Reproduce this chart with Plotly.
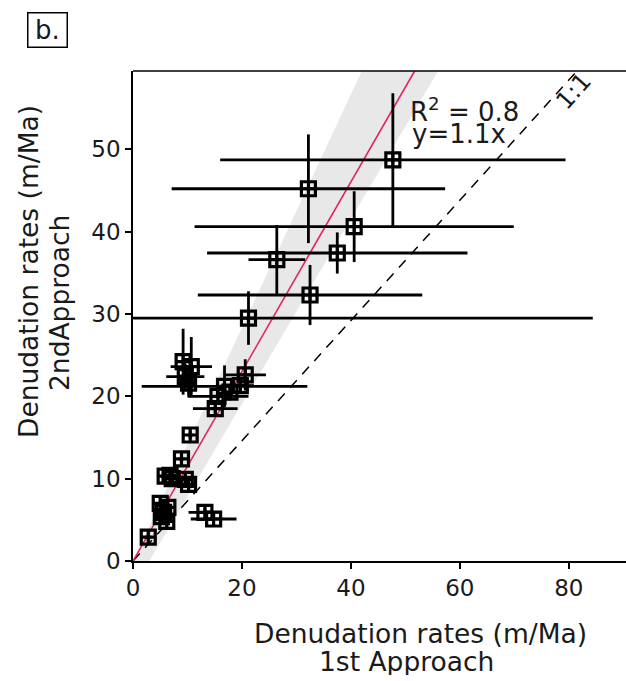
import plotly.graph_objects as go

# ---- data ----
rate_1st = [47.7, 32.2, 40.6, 37.5, 26.4, 32.5, 21.2,
            9.2, 10.7, 9.6, 10.2, 16.8, 20.6, 17.8, 19.7, 15.1, 15.6,
            10.5, 8.9, 5.9, 7.2, 10.2, 5.0, 6.4, 5.2, 6.2, 2.8, 13.2, 14.8,
            5.6, 6.8, 9.6]
rate_2nd = [48.7, 45.2, 40.6, 37.4, 36.6, 32.3, 29.5,
            24.2, 23.6, 22.4, 21.6, 21.2, 22.6, 20.5, 21.3, 18.5, 20.0,
            15.3, 12.4, 10.3, 10.0, 9.3, 7.0, 6.5, 5.4, 4.8, 2.9, 5.9, 5.1,
            5.9, 10.4, 9.9]
err_1st = [31.7, 25.1, 29.3, 23.9, 5.2, 20.6, 63.2,
           1.5, 3.8, 3.5, 1.5, 15.2, 3.8, 1.5, 2.5, 4.1, 5.6,
           0.5, 0.5, 0.8, 0.8, 0.8, 0.8, 0.8, 0.8, 0.8, 0.6, 3.0, 4.2,
           0.8, 0.8, 0.8]
err_2nd = [8.1, 6.6, 4.3, 2.5, 4.2, 3.65, 3.25,
           4.0, 3.6, 1.5, 1.5, 2.55, 1.9, 1.0, 1.0, 0.8, 1.0,
           0.5, 0.5, 0.6, 0.6, 0.6, 0.6, 0.6, 0.6, 0.6, 0.5, 0.5, 0.5,
           0.6, 0.6, 0.6]

fit_x = [0, 51.7]          # regression y = 1.1x as drawn
fit_y = [0, 59.5]
line11_x = [0, 81.5]       # "1:1" reference line as drawn
line11_y = [0, 59.5]
band_left_x = [0, 42.0]    # grey confidence band edges
band_right_x = [3.0, 56.0]
band_y = [0, 59.5]

x_ticks = [0, 20, 40, 60, 80]
y_ticks = [0, 10, 20, 30, 40, 50]

FONT = "DejaVu Sans"
TXT = "#1a1a1a"

fig = go.Figure()

# confidence band
fig.add_trace(go.Scatter(
    x=band_left_x + band_right_x[::-1],
    y=band_y + band_y[::-1],
    fill="toself", fillcolor="rgba(210,210,210,0.5)",
    line=dict(width=0), mode="lines", hoverinfo="skip", showlegend=False))

# 1:1 line
fig.add_trace(go.Scatter(x=line11_x, y=line11_y, mode="lines",
                         line=dict(color="black", width=1.5, dash="10px,8px"),
                         showlegend=False))

# regression line
fig.add_trace(go.Scatter(x=fit_x, y=fit_y, mode="lines",
                         line=dict(color="#e0245e", width=1.6),
                         showlegend=False))

# data with error bars
fig.add_trace(go.Scatter(
    x=rate_1st, y=rate_2nd, mode="markers",
    marker=dict(symbol="square-cross-open", size=14, color="black",
                line=dict(color="black", width=3.2)),
    error_x=dict(type="data", array=err_1st, color="black", thickness=2.8, width=0),
    error_y=dict(type="data", array=err_2nd, color="black", thickness=2.8, width=0),
    showlegend=False))

fig.update_layout(
    width=626, height=681,
    margin=dict(l=133, r=0, t=71, b=120),
    paper_bgcolor="white", plot_bgcolor="white",
    font=dict(family=FONT, color=TXT),
    xaxis=dict(range=[0, 90.5], tickvals=x_ticks, showgrid=False, zeroline=False,
               showline=True, linecolor="black", linewidth=1.6,
               ticks="outside", ticklen=6, tickwidth=1.5, tickcolor="black",
               tickfont=dict(size=23, family=FONT, color=TXT)),
    yaxis=dict(range=[0, 59.5], tickvals=y_ticks, showgrid=False, zeroline=False,
               showline=True, linecolor="black", linewidth=1.6,
               ticks="outside", ticklen=6, tickwidth=1.5, tickcolor="black",
               tickfont=dict(size=23, family=FONT, color=TXT)),
)

# top border
fig.add_shape(type="line", xref="paper", yref="paper", x0=0, x1=1, y0=1, y1=1,
              line=dict(color="black", width=1.6))

ann = []
# panel label
ann.append(dict(text="b.", xref="paper", yref="paper", x=(47 - 133) / 493, y=(561 - 30) / 490,
                xanchor="center", yanchor="middle", showarrow=False,
                font=dict(size=26, family=FONT, color=TXT),
                bordercolor="black", borderwidth=1.5, borderpad=1, width=36, height=31))
# regression text
ann.append(dict(text="R<sup>2</sup> = 0.8", x=50.5, y=54.8, xanchor="left", yanchor="middle",
                showarrow=False, font=dict(size=26, family=FONT, color=TXT)))
ann.append(dict(text="y=1.1x", x=50.8, y=51.9, xanchor="left", yanchor="middle",
                showarrow=False, font=dict(size=26, family=FONT, color=TXT)))
# 1:1 label
ann.append(dict(text="1:1", x=80.9, y=57.1, xanchor="center", yanchor="middle",
                textangle=-48, showarrow=False, font=dict(size=24, family=FONT, color=TXT)))
# x title
ann.append(dict(text="Denudation rates (m/Ma)", xref="paper", yref="paper",
                x=(420 - 133) / 493, y=(561 - 633) / 490, xanchor="center", yanchor="middle",
                height=27, showarrow=False, font=dict(size=26.5, family=FONT, color=TXT)))
ann.append(dict(text="1st Approach", xref="paper", yref="paper",
                x=(406 - 133) / 493, y=(561 - 661) / 490, xanchor="center", yanchor="middle",
                height=27, showarrow=False, font=dict(size=26.5, family=FONT, color=TXT)))
# y title
ann.append(dict(text="Denudation rates (m/Ma)", xref="paper", yref="paper",
                x=(28 - 133) / 493, y=(561 - 272) / 490, xanchor="center", yanchor="middle",
                textangle=-90, showarrow=False, font=dict(size=26.5, family=FONT, color=TXT)))
ann.append(dict(text="2ndApproach", xref="paper", yref="paper",
                x=(59 - 133) / 493, y=(561 - 303) / 490, xanchor="center", yanchor="middle",
                textangle=-90, showarrow=False, font=dict(size=26.5, family=FONT, color=TXT)))
fig.update_layout(annotations=ann)

fig.write_html("out.html", config={"displayModeBar": False},
               post_script="document.body.style.margin='0';")
